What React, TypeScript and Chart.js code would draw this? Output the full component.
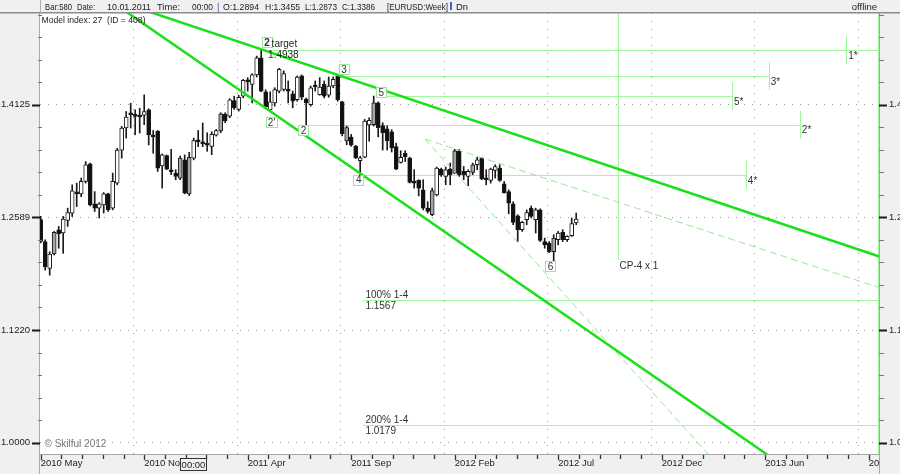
import React, { useEffect, useRef } from 'react';
import { Chart, registerables } from 'chart.js';

Chart.register(...registerables);

// ---- weekly EURUSD candles ----
const opens = [
  1.2559, 1.2282, 1.1950, 1.2127, 1.2431, 1.2389, 1.2550, 1.2644, 1.2912, 1.2895,
  1.3060, 1.3297, 1.2763, 1.2708, 1.2750, 1.2895, 1.2708, 1.3038, 1.3485, 1.3792,
  1.4005, 1.3976, 1.3966, 1.3976, 1.4051, 1.3687, 1.3744, 1.3270, 1.3409, 1.3217,
  1.3172, 1.3105, 1.3351, 1.2894, 1.3374, 1.3617, 1.3588, 1.3570, 1.3537, 1.3693,
  1.3750, 1.3985, 1.3962, 1.4183, 1.4056, 1.4248, 1.4481, 1.4421, 1.4561, 1.4819,
  1.4312, 1.4051, 1.4151, 1.4323, 1.4346, 1.4346, 1.4282, 1.4197, 1.4546, 1.4208,
  1.4126, 1.4412, 1.4272, 1.4421, 1.4263, 1.4397, 1.4546, 1.4165, 1.3613, 1.3665,
  1.3537, 1.3341, 1.3387, 1.3835, 1.3839, 1.4151, 1.3825, 1.3782, 1.3740, 1.3532,
  1.3315, 1.3441, 1.3374, 1.3060, 1.3073, 1.2948, 1.2708, 1.2623, 1.2881, 1.3226,
  1.3127, 1.3226, 1.3172, 1.3476, 1.3194, 1.3127, 1.3180, 1.3284, 1.3374, 1.3105,
  1.3073, 1.3207, 1.3239, 1.3029, 1.2925, 1.2763, 1.2610, 1.2431, 1.2559, 1.2708,
  1.2559, 1.2686, 1.2282, 1.2261, 1.2155, 1.2304, 1.2397, 1.2304, 1.2355, 1.2517,
];
const highs = [
  1.2601, 1.2304, 1.2155, 1.2410, 1.2473, 1.2601, 1.2708, 1.3015, 1.3038, 1.3105,
  1.3328, 1.3307, 1.2925, 1.2780, 1.2912, 1.2904, 1.3172, 1.3509, 1.3815, 1.4027,
  1.4146, 1.4051, 1.4075, 1.4268, 1.4066, 1.3758, 1.3758, 1.3431, 1.3418, 1.3495,
  1.3217, 1.3404, 1.3418, 1.3455, 1.3651, 1.3758, 1.3863, 1.3726, 1.3740, 1.3772,
  1.4009, 1.4009, 1.4212, 1.4248, 1.4263, 1.4495, 1.4521, 1.4580, 1.4844, 1.4938,
  1.4342, 1.4312, 1.4372, 1.4659, 1.4621, 1.4472, 1.4323, 1.4546, 1.4561, 1.4223,
  1.4397, 1.4472, 1.4521, 1.4472, 1.4531, 1.4531, 1.4561, 1.4175, 1.3821, 1.3702,
  1.3551, 1.3400, 1.3914, 1.3938, 1.4250, 1.4165, 1.3867, 1.3825, 1.3768, 1.3580,
  1.3476, 1.3476, 1.3387, 1.3217, 1.3082, 1.3082, 1.2792, 1.2971, 1.3253, 1.3239,
  1.3253, 1.3307, 1.3495, 1.3495, 1.3261, 1.3217, 1.3307, 1.3387, 1.3387, 1.3217,
  1.3239, 1.3284, 1.3284, 1.3060, 1.2948, 1.2792, 1.2623, 1.2537, 1.2686, 1.2737,
  1.2708, 1.2699, 1.2325, 1.2282, 1.2367, 1.2410, 1.2431, 1.2355, 1.2581, 1.2644,
];
const lows = [
  1.2266, 1.1929, 1.1867, 1.2114, 1.2198, 1.2135, 1.2473, 1.2601, 1.2729, 1.2858,
  1.3038, 1.2737, 1.2665, 1.2581, 1.2644, 1.2665, 1.2686, 1.3015, 1.3374, 1.3651,
  1.3792, 1.3697, 1.3721, 1.3839, 1.3556, 1.3441, 1.3194, 1.2971, 1.3217, 1.3150,
  1.3082, 1.3082, 1.2895, 1.2873, 1.3351, 1.3532, 1.3532, 1.3468, 1.3422, 1.3679,
  1.3726, 1.3867, 1.3938, 1.4056, 1.4033, 1.4223, 1.4323, 1.4151, 1.4531, 1.4312,
  1.4066, 1.4023, 1.4104, 1.4297, 1.4323, 1.4151, 1.4080, 1.4175, 1.4197, 1.3821,
  1.4104, 1.4323, 1.4263, 1.4223, 1.4233, 1.4372, 1.4175, 1.3683, 1.3560, 1.3537,
  1.3368, 1.3148, 1.3378, 1.3608, 1.3821, 1.3669, 1.3485, 1.3485, 1.3458, 1.3217,
  1.3307, 1.3328, 1.3038, 1.2971, 1.2868, 1.2686, 1.2644, 1.2610, 1.2868, 1.3127,
  1.3015, 1.3015, 1.3163, 1.3127, 1.3082, 1.3002, 1.3150, 1.3217, 1.3082, 1.3015,
  1.3038, 1.3105, 1.3060, 1.2904, 1.2635, 1.2495, 1.2282, 1.2410, 1.2495, 1.2581,
  1.2389, 1.2282, 1.2198, 1.2143, 1.2032, 1.2240, 1.2282, 1.2282, 1.2346, 1.2495,
];
const closes = [
  1.2282, 1.1970, 1.2127, 1.2397, 1.2380, 1.2568, 1.2652, 1.2935, 1.2895, 1.3060,
  1.3284, 1.2750, 1.2708, 1.2763, 1.2895, 1.2686, 1.3060, 1.3485, 1.3792, 1.3948,
  1.3981, 1.3957, 1.3948, 1.4027, 1.3697, 1.3669, 1.3239, 1.3418, 1.3226, 1.3190,
  1.3127, 1.3374, 1.2904, 1.3386, 1.3617, 1.3598, 1.3570, 1.3551, 1.3702, 1.3758,
  1.3995, 1.3891, 1.4197, 1.4080, 1.4233, 1.4481, 1.4457, 1.4561, 1.4819, 1.4323,
  1.4094, 1.4165, 1.4346, 1.4644, 1.4580, 1.4323, 1.4175, 1.4531, 1.4233, 1.4151,
  1.4372, 1.4382, 1.4382, 1.4248, 1.4397, 1.4495, 1.4197, 1.3712, 1.3797, 1.3551,
  1.3378, 1.3378, 1.3891, 1.3900, 1.4151, 1.3797, 1.3726, 1.3613, 1.3513, 1.3226,
  1.3387, 1.3395, 1.3046, 1.3038, 1.2971, 1.2708, 1.2665, 1.2939, 1.3239, 1.3150,
  1.3217, 1.3150, 1.3476, 1.3150, 1.3150, 1.3194, 1.3284, 1.3351, 1.3092, 1.3082,
  1.3226, 1.3261, 1.3073, 1.2912, 1.2772, 1.2524, 1.2431, 1.2524, 1.2652, 1.2601,
  1.2686, 1.2295, 1.2240, 1.2155, 1.2325, 1.2389, 1.2304, 1.2346, 1.2508, 1.2568,
];
const greyBars = [3, 31, 33, 40, 68, 74, 87, 92, 96, 114];

// ---- axes ----
const xMajorBars = [0, 23, 46, 69, 92, 115, 138, 161, 184];
const xLabels = ['2010 May', '2010 Nov', '2011 Apr', '2011 Sep', '2012 Feb', '2012 Jul', '2012 Dec', '2013 Jun', '2013 Nov'];
const yMajorValues = [1.0, 1.122, 1.2589, 1.4125];
const yMajorLabels = ['1.0000', '1.1220', '1.2589', '1.4125'];

// ---- trend lines (bar index, price) ----
const upperChannelBars = [23, 187];
const upperChannelPrices = [1.5559, 1.2084];
const lowerChannelBars = [19, 165];
const lowerChannelPrices = [1.5532, 0.9768];
const fanUpperBars = [85.4, 187];
const fanUpperPrices = [1.3637, 1.1706];
const fanLowerBars = [85.4, 150.6];
const fanLowerPrices = [1.3637, 0.9768];

// ---- target levels ----
const levelNames = ['1*', '2*', '3*', '4*', '5*'];
const levelPrices = [1.4938, 1.3839, 1.4547, 1.3148, 1.4250];
const levelFromBars = [51.4, 59.2, 68.1, 71.4, 76.5];
const levelToBars = [186.3, 168.7, 161.8, 156.7, 153.6];
const levelMarkBars = [179.0, 168.7, 161.8, 156.7, 153.6];

const pctNames = ['100% 1-4', '200% 1-4'];
const pctValues = ['1.1567', '1.0179'];
const pctPrices = [1.1567, 1.0179];
const pctFromBar = 71.6;

const cpBar = 128.4;
const cpEndPrice = 1.2051;
const edgeBar = 186.0;

// ---- wave labels ----
const waveNames = ['2', "2'", '2', '3', '4', '5', '6'];
const waveBars = [50.2, 51.2, 58.3, 67.3, 70.6, 75.6, 113.2];
const wavePrices = [1.5053, 1.3878, 1.3763, 1.4644, 1.3085, 1.4312, 1.1974];

const XMIN = -0.1556;
const XMAX = 186.289;
const YMIN = 0.98852;
const YMAX = 1.55123;

const FONT = "'Liberation Sans', Arial, sans-serif";
const THICK = '#19e119';
const LEVEL = '#9ff79f';
const DASH = '#96e896';
const BOX = '#90ee90';

function hLine(ctx: any, x1: number, x2: number, y: number) {
  const yy = Math.round(y) + 0.5;
  ctx.beginPath();
  ctx.moveTo(x1, yy);
  ctx.lineTo(x2, yy);
  ctx.stroke();
}
function vLine(ctx: any, x: number, y1: number, y2: number) {
  const xx = Math.round(x) + 0.5;
  ctx.beginPath();
  ctx.moveTo(xx, y1);
  ctx.lineTo(xx, y2);
  ctx.stroke();
}

const xTickValues = Array.from({ length: 41 }, (_, k) => (k % 5 === 0 ? xMajorBars[k / 5] : k * 4.6));
const yTickValues = Array.from({ length: 20 }, (_, k) => (k % 5 === 0 ? yMajorValues[k / 5] : Math.pow(10, k / 100)));

function xLabelFor(v: number) {
  const j = xMajorBars.findIndex((m) => Math.abs(m - v) < 1e-6);
  return j >= 0 ? xLabels[j] : '';
}
function yLabelFor(v: number) {
  const j = yMajorValues.findIndex((m) => Math.abs(m - v) < 1e-6);
  return j >= 0 ? yMajorLabels[j] : '';
}

const overlay = {
  id: 'skilfulOverlay',
  beforeDraw(chart: any) {
    const { ctx, chartArea: a, width, height } = chart;
    ctx.save();
    ctx.fillStyle = '#f0f0f0';
    ctx.fillRect(0, 0, width, height);
    ctx.fillStyle = '#ffffff';
    ctx.fillRect(a.left, a.top, a.right - a.left, a.bottom - a.top);
    ctx.restore();
  },
  beforeDatasetsDraw(chart: any) {
    const { ctx, chartArea: a } = chart;
    const X = (v: number) => chart.scales.x.getPixelForValue(v);
    const Y = (v: number) => chart.scales.y.getPixelForValue(v);
    ctx.save();
    ctx.beginPath();
    ctx.rect(a.left, a.top, a.right - a.left, a.bottom - a.top);
    ctx.clip();
    ctx.strokeStyle = LEVEL;
    ctx.lineWidth = 1;
    levelPrices.forEach((p, i) => {
      const y = Y(p);
      hLine(ctx, X(levelFromBars[i]), X(levelToBars[i]), y);
      vLine(ctx, X(levelMarkBars[i]), y - 14, y + 14);
    });
    pctPrices.forEach((p) => hLine(ctx, X(pctFromBar), a.right, Y(p)));
    vLine(ctx, X(cpBar), a.top, Y(cpEndPrice));
    vLine(ctx, X(edgeBar), a.top, a.bottom);
    ctx.restore();
  },
  afterDatasetsDraw(chart: any) {
    const { ctx, chartArea: a } = chart;
    const X = (v: number) => chart.scales.x.getPixelForValue(v);
    const Y = (v: number) => chart.scales.y.getPixelForValue(v);
    ctx.save();
    ctx.beginPath();
    ctx.rect(a.left, a.top, a.right - a.left, a.bottom - a.top);
    ctx.clip();
    ctx.textBaseline = 'middle';
    // wave boxes
    waveNames.forEach((n, i) => {
      const cx = X(waveBars[i]);
      const cy = Y(wavePrices[i]);
      ctx.font = (i === 0 ? 'bold ' : '') + '10px ' + FONT;
      const w = ctx.measureText(n).width;
      const bw = Math.max(9, Math.round(w + 4));
      const bh = 10;
      const bx = Math.round(cx - bw / 2) + 0.5;
      const by = Math.round(cy - bh / 2) + 0.5;
      ctx.fillStyle = '#ffffff';
      ctx.fillRect(bx, by, bw, bh);
      ctx.strokeStyle = BOX;
      ctx.lineWidth = 1;
      ctx.strokeRect(bx, by, bw, bh);
      ctx.fillStyle = '#333333';
      ctx.textAlign = 'center';
      ctx.fillText(n, cx + 0.5, cy + 1);
    });
    const tx = X(waveBars[0]);
    const ty = Y(wavePrices[0]);
    ctx.font = '10px ' + FONT;
    ctx.textAlign = 'left';
    ctx.fillStyle = '#222222';
    ctx.fillText('target', tx + 5, ty + 2);
    ctx.fillText('1.4938', tx + 1.5, ty + 13);

    // level labels
    ctx.fillStyle = '#333333';
    levelNames.forEach((n, i) => {
      ctx.fillText(n, X(levelMarkBars[i]) + 2, Y(levelPrices[i]) + 6);
    });
    ctx.fillText('CP-4 x 1', X(cpBar) + 1, Y(cpEndPrice) + 6.5);
    pctNames.forEach((n, i) => {
      const y = Y(pctPrices[i]);
      ctx.fillText(n, X(pctFromBar) + 2.5, y - 5);
      ctx.fillText(pctValues[i], X(pctFromBar) + 2.5, y + 6);
    });
    ctx.font = '9.5px ' + FONT;
    ctx.fillStyle = '#222222';
    ctx.fillText('Model index: 27  (ID = 408)', a.left + 1.5, 20, 104);
    ctx.fillStyle = '#777777';
    ctx.font = '10px ' + FONT;
    ctx.fillText('\u00a9 Skilful 2012', a.left + 4.5, 444);
    ctx.restore();
  },
  afterDraw(chart: any) {
    const { ctx, chartArea: a, width, height } = chart;
    const xs = chart.scales.x;
    const ys = chart.scales.y;
    ctx.save();
    // cover label overflow in the right panel
    ctx.fillStyle = '#f0f0f0';
    ctx.fillRect(a.right + 1, a.bottom + 1, width - a.right, height - a.bottom);

    // axis lines
    ctx.strokeStyle = '#a8a8a8';
    ctx.lineWidth = 1;
    vLine(ctx, a.left - 1, a.top, height);
    vLine(ctx, a.right, a.top, height);
    hLine(ctx, a.left - 1, a.right, a.bottom);

    // x ticks
    ctx.strokeStyle = '#333333';
    ctx.lineWidth = 1.3;
    xTickValues.forEach((v, k) => {
      const px = xs.getPixelForValue(v);
      if (px < a.left - 1 || px > a.right) return;
      const len = k % 5 === 0 ? 5 : 4;
      vLine(ctx, px, a.bottom + 1, a.bottom + 1 + len);
    });

    // y ticks (left & right)
    yTickValues.forEach((v, k) => {
      const py = Math.round(ys.getPixelForValue(v)) + 0.5;
      if (k % 5 === 0) {
        ctx.strokeStyle = '#1a1a1a';
        ctx.lineWidth = 2;
        ctx.beginPath();
        ctx.moveTo(32, py);
        ctx.lineTo(a.left, py);
        ctx.moveTo(a.right, py);
        ctx.lineTo(a.right + 8, py);
        ctx.stroke();
      } else {
        ctx.strokeStyle = '#777777';
        ctx.lineWidth = 1;
        ctx.beginPath();
        ctx.moveTo(a.left - 2, py);
        ctx.lineTo(a.left + 2, py);
        ctx.moveTo(a.right, py);
        ctx.lineTo(a.right + 5, py);
        ctx.stroke();
      }
    });

    // header
    ctx.fillStyle = '#f0f0f0';
    ctx.fillRect(0, 0, width, a.top);
    ctx.strokeStyle = '#8c8c8c';
    ctx.lineWidth = 1.5;
    ctx.beginPath();
    ctx.moveTo(0, a.top - 0.25);
    ctx.lineTo(width, a.top - 0.25);
    ctx.stroke();
    ctx.strokeStyle = '#b0b0b0';
    ctx.lineWidth = 1;
    vLine(ctx, a.left, 0, a.top);

    ctx.font = '9.5px ' + FONT;
    ctx.textBaseline = 'middle';
    ctx.textAlign = 'left';
    const tokens: [string, number, number, string][] = [
      ['Bar:580', 45, 27, '#1a1a1a'],
      ['Date:', 77, 18, '#1a1a1a'],
      ['10.01.2011', 107, 44, '#1a1a1a'],
      ['Time:', 157, 23, '#1a1a1a'],
      ['00:00', 192, 21, '#1a1a1a'],
      ['|', 217, 4, '#6a4ca8'],
      ['O:1.2894', 223, 36, '#1a1a1a'],
      ['H:1.3455', 265, 35, '#1a1a1a'],
      ['L:1.2873', 305, 32, '#1a1a1a'],
      ['C:1.3386', 342, 33, '#1a1a1a'],
      ['[EURUSD:Week]', 387, 61, '#1a1a1a'],
      ['Dn', 456, 12, '#1a1a1a'],
    ];
    tokens.forEach(([t, x, w, c]) => {
      ctx.fillStyle = c;
      ctx.fillText(t, x, 7, w);
    });
    ctx.fillStyle = '#3a6ad0';
    ctx.fillRect(450, 2, 2, 8);
    ctx.fillStyle = '#1a1a1a';
    ctx.textAlign = 'right';
    ctx.fillText('offline', 877, 7);

    // crosshair time box on the x axis
    const bx = Math.round(xs.getPixelForValue(33)) - 8.5;
    ctx.fillStyle = '#f0f0f0';
    ctx.fillRect(bx, 458.5, 26, 12);
    ctx.strokeStyle = '#333333';
    ctx.lineWidth = 1;
    ctx.strokeRect(bx, 458.5, 26, 12);
    ctx.fillStyle = '#1a1a1a';
    ctx.textAlign = 'center';
    ctx.font = '9.5px ' + FONT;
    ctx.fillText('00:00', bx + 13, 465, 24);
    ctx.restore();
  },
};

export default function App() {
  const ref = useRef<HTMLCanvasElement>(null);
  useEffect(() => {
    document.body.style.margin = '0';
    const canvas = ref.current as HTMLCanvasElement;
    const idx = opens.map((_, i) => i);
    const bodyColors = idx.map((i) =>
      closes[i] < opens[i] ? '#111111' : greyBars.includes(i) ? '#a6a6a6' : '#ffffff'
    );
    const lineDs = (bars: number[], prices: number[], color: string, width: number, dash: number[] | undefined) => ({
      type: 'line' as const,
      data: bars.map((b, i) => ({ x: b, y: prices[i] })),
      borderColor: color,
      borderWidth: width,
      borderDash: dash,
      pointRadius: 0,
      tension: 0,
      fill: false,
      clip: 0,
      order: 0,
      xAxisID: 'x',
      yAxisID: 'y',
    });
    const chart = new Chart(canvas, {
      type: 'bar',
      data: {
        datasets: [
          lineDs(upperChannelBars, upperChannelPrices, THICK, 2.5, undefined),
          lineDs(lowerChannelBars, lowerChannelPrices, THICK, 2.5, undefined),
          lineDs(fanUpperBars, fanUpperPrices, DASH, 1, [7, 4]),
          lineDs(fanLowerBars, fanLowerPrices, DASH, 1, [7, 4]),
          {
            type: 'bar',
            data: idx.map((i) => ({ x: i, y: [opens[i], closes[i]] })),
            backgroundColor: bodyColors,
            borderColor: '#1a1a1a',
            borderWidth: 1,
            borderSkipped: false,
            barThickness: 4,
            minBarLength: 2,
            grouped: false,
            clip: 0,
            order: 1,
            xAxisID: 'x',
            yAxisID: 'y',
          },
          {
            type: 'bar',
            data: idx.map((i) => ({ x: i, y: [lows[i], highs[i]] })),
            backgroundColor: '#1a1a1a',
            borderWidth: 0,
            barThickness: 1,
            grouped: false,
            clip: 0,
            order: 2,
            xAxisID: 'x',
            yAxisID: 'y',
          },
        ] as any,
      },
      options: {
        responsive: false,
        devicePixelRatio: 1,
        animation: false,
        events: [],
        layout: { autoPadding: false, padding: { top: 13, left: 0, right: 0, bottom: 0 } },
        plugins: { legend: { display: false }, tooltip: { enabled: false } },
        scales: {
          x: {
            type: 'linear',
            position: 'bottom',
            min: XMIN,
            max: XMAX,
            offset: false,
            afterFit: (s: any) => {
              s.height = 20;
              s.paddingLeft = 0;
              s.paddingRight = 0;
            },
            afterBuildTicks: (s: any) => {
              s.ticks = xTickValues.map((v) => ({ value: v }));
            },
            ticks: {
              autoSkip: false,
              maxRotation: 0,
              minRotation: 0,
              align: 'start',
              padding: 4,
              color: '#222222',
              font: { family: FONT, size: 9.5 },
              callback: (v: any) => xLabelFor(Number(v)),
            },
            grid: {
              drawTicks: false,
              lineWidth: 1,
              color: (c: any) => (c.tick && c.tick.label ? '#9a9a9a' : 'rgba(0,0,0,0)'),
            },
            border: { display: false, dash: [1, 7] },
          },
          y: {
            type: 'logarithmic',
            position: 'left',
            min: YMIN,
            max: YMAX,
            afterFit: (s: any) => {
              s.width = 40;
              s.paddingTop = 0;
              s.paddingBottom = 0;
            },
            afterBuildTicks: (s: any) => {
              s.ticks = yTickValues.map((v) => ({ value: v }));
            },
            ticks: {
              autoSkip: false,
              padding: 10,
              color: '#222222',
              font: { family: FONT, size: 9.5 },
              callback: (v: any) => yLabelFor(Number(v)),
            },
            grid: {
              drawTicks: false,
              lineWidth: 1,
              color: (c: any) => (c.tick && c.tick.label ? '#9a9a9a' : 'rgba(0,0,0,0)'),
            },
            border: { display: false, dash: [1, 7] },
          },
          y2: {
            type: 'logarithmic',
            position: 'right',
            min: YMIN,
            max: YMAX,
            afterFit: (s: any) => {
              s.width = 21;
              s.paddingTop = 0;
              s.paddingBottom = 0;
            },
            afterBuildTicks: (s: any) => {
              s.ticks = yTickValues.map((v) => ({ value: v }));
            },
            ticks: {
              autoSkip: false,
              padding: 10,
              color: '#222222',
              font: { family: FONT, size: 9.5 },
              callback: (v: any) => yLabelFor(Number(v)),
            },
            grid: { display: false, drawTicks: false },
            border: { display: false },
          },
        },
      } as any,
      plugins: [overlay],
    });
    return () => chart.destroy();
  }, []);
  return <canvas ref={ref} width={900} height={474} style={{ display: 'block', width: '900px', height: '474px' }} />;
}
